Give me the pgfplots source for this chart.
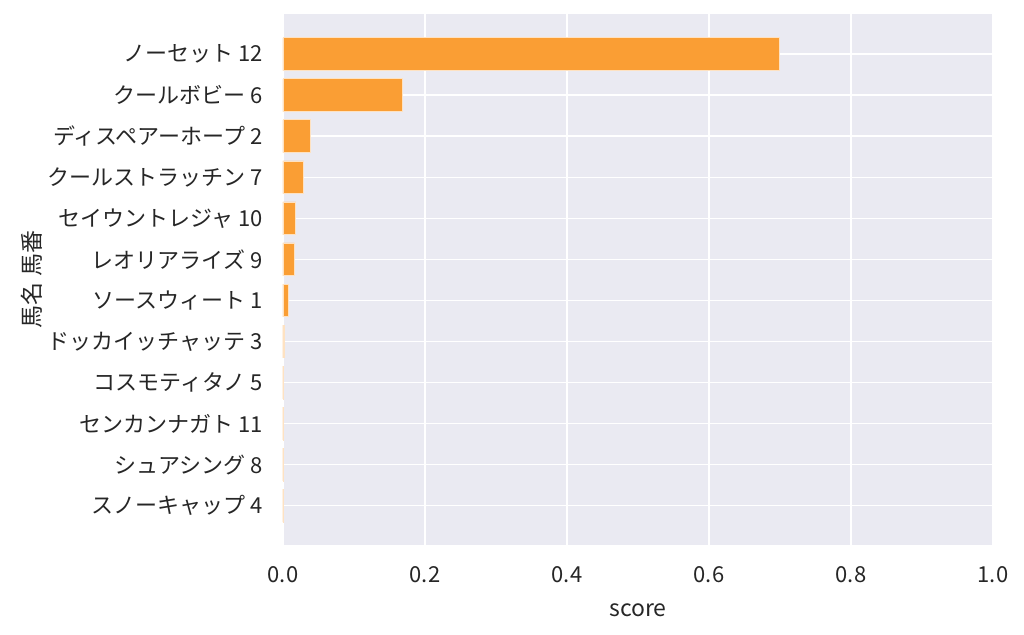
\documentclass[border=0pt]{standalone}
\usepackage{pgfplots}
\pgfplotsset{compat=1.18}
\usepackage{fontspec}
\setmainfont{Noto Sans CJK JP}
\definecolor{bgc}{HTML}{EAEAF2}
\definecolor{barc}{RGB}{250,158,52}
\definecolor{txt}{HTML}{262626}
\begin{document}
\begin{tikzpicture}
\begin{axis}[
  scale only axis, width=710pt, height=531pt,
  xbar, bar width=0.8, y dir=reverse,
  xmin=0, xmax=1, ymin=-0.98, ymax=11.96,
  axis background/.style={fill=bgc},
  axis line style={draw=none},
  major tick length=0pt,
  grid=major, major grid style={white, line width=1.6pt},
  xtick={0,0.2,0.4,0.6,0.8,1.0},
  xticklabel style={/pgf/number format/fixed, /pgf/number format/fixed zerofill, /pgf/number format/precision=1, yshift=-18pt},
  /pgf/number format/assume math mode=true,
  ytick={0,...,11},
  yticklabels={ノーセット 12,クールボビー 6,ディスペアーホープ 2,クールストラッチン 7,セイウントレジャ 10,レオリアライズ 9,ソースウィート 1,ドッカイッチャッテ 3,コスモティタノ 5,センカンナガト 11,シュアシング 8,スノーキャップ 4},
  yticklabel style={xshift=-17pt},
  ticklabel style={font=\fontsize{22}{26}\selectfont, text=txt},
  xlabel={score}, ylabel={馬名 馬番},
  label style={font=\fontsize{23}{27}\selectfont, text=txt},
  ylabel style={yshift=-2pt},
  xlabel style={yshift=-14pt},
]
\addplot[fill=barc, draw=white!70!barc, line width=0.8pt] coordinates {
(0.699,0) (0.168,1) (0.038,2) (0.029,3) (0.018,4) (0.016,5) (0.008,6) (0.002,7) (0.001,8) (0.0007,9) (0.0004,10) (0.0003,11)
};
\end{axis}
\path ([xshift=-283pt,yshift=-89pt]current axis.south west) rectangle ([xshift=31pt,yshift=14pt]current axis.north east);
\end{tikzpicture}
\end{document}
